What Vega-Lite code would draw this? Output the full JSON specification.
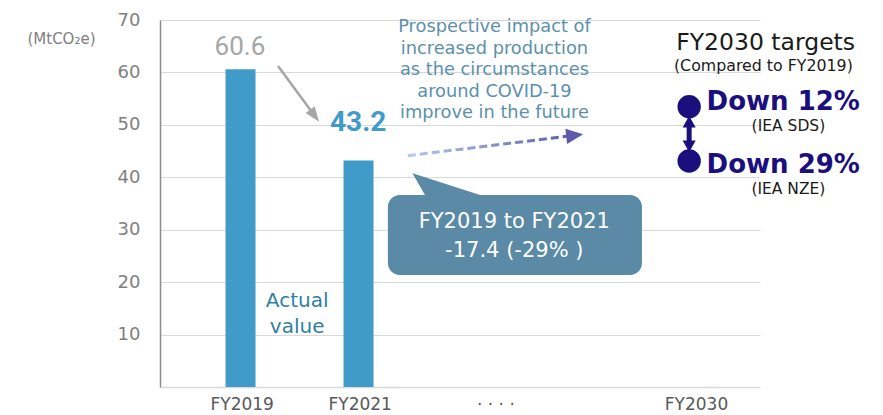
{
  "$schema": "https://vega.github.io/schema/vega-lite/v6.json",
  "width": 600,
  "height": 367,
  "autosize": {"type": "none"},
  "padding": {"left": 160, "top": 20, "right": 123, "bottom": 28},
  "background": "white",
  "config": {"view": {"stroke": null}, "font": "DejaVu Sans"},
  "encoding": {
    "x": {
      "field": "x", "type": "quantitative",
      "scale": {"domain": [0, 50], "nice": false, "zero": false},
      "axis": {
        "values": [6.5, 16.5, 28, 45],
        "labelExpr": "datum.value == 6.5 ? 'FY2019' : datum.value == 16.5 ? 'FY2021' : datum.value == 28 ? '· · · ·' : 'FY2030'",
        "title": null, "grid": false, "ticks": false,
        "domainColor": "#d9d9d9", "domainWidth": 1.5,
        "labelFont": "DejaVu Sans", "labelFontSize": 17, "labelColor": "#595959",
        "labelPadding": 9, "labelBaseline": "top"
      }
    },
    "y": {
      "field": "y", "type": "quantitative",
      "scale": {"domain": [0, 70], "nice": false, "zero": true},
      "axis": {
        "values": [10, 20, 30, 40, 50, 60, 70],
        "grid": true, "gridColor": "#d9d9d9", "gridWidth": 1.2,
        "ticks": false, "domainColor": "#8c8c8c", "domainWidth": 1.5,
        "labelFont": "DejaVu Sans", "labelFontSize": 18, "labelColor": "#7f7f7f",
        "labelPadding": 20,
        "title": "(MtCO₂e)", "titleAngle": 0, "titleX": -99, "titleY": 18,
        "titleAlign": "center", "titleBaseline": "middle",
        "titleFont": "DejaVu Sans", "titleFontSize": 15, "titleFontWeight": "normal", "titleColor": "#7f7f7f"
      }
    }
  },
  "layer": [
    {
      "data": {"values": [
        {"label": "FY2019", "x": 6.4, "y": 60.6},
        {"label": "FY2021", "x": 16.4, "y": 43.2}
      ]},
      "mark": {"type": "bar", "size": 30, "color": "#419bc9"}
    },
    {
      "data": {"values": [{"x": 6.35, "y": 64.8, "t": "60.6"}]},
      "mark": {"type": "text", "font": "Roboto", "fontSize": 26, "color": "#a6a6a6", "baseline": "middle", "align": "center"},
      "encoding": {"text": {"field": "t"}}
    },
    {
      "data": {"values": [{"x": 16.37, "y": 50.26, "t": "43.2"}]},
      "mark": {"type": "text", "font": "Roboto", "fontSize": 28, "fontWeight": "bold", "color": "#3f9bcb", "baseline": "middle", "align": "center"},
      "encoding": {"text": {"field": "t"}}
    },
    {
      "data": {"values": [{"x": 9.58, "y": 61.22, "x2": 12.68, "y2": 51.75}]},
      "mark": {"type": "rule", "strokeWidth": 2.5, "color": "#a6a6a6"},
      "encoding": {"x2": {"field": "x2"}, "y2": {"field": "y2"}}
    },
    {
      "data": {"values": [{"x": 12.68, "y": 51.75}]},
      "mark": {"type": "point", "shape": "M0,-1L0.75,1L-0.75,1Z", "size": 225, "angle": 143.2, "filled": true, "opacity": 1, "color": "#a6a6a6"}
    },
    {
      "data": {"values": [{"x": 20.58, "y": 44.12}, {"x": 34.72, "y": 48.0}]},
      "mark": {
        "type": "line", "strokeWidth": 3, "strokeDash": [8, 4],
        "color": {"gradient": "linear", "x1": 0, "x2": 1, "y1": 0, "y2": 0,
          "stops": [{"offset": 0, "color": "#b8c8ec"}, {"offset": 1, "color": "#5c58ae"}]}
      }
    },
    {
      "data": {"values": [{"x": 34.72, "y": 48.0}]},
      "mark": {"type": "point", "shape": "M0,-1L0.9,1L-0.9,1Z", "size": 289, "angle": 83.4, "filled": true, "opacity": 1, "color": "#5e5ab0"}
    },
    {
      "data": {"values": [
        {"x": 20.97, "y": 40.76, "y2": 40.76},
        {"x": 22.23, "y": 39.85, "y2": 35.86},
        {"x": 27.75, "y": 35.86, "y2": 35.86}
      ]},
      "mark": {"type": "area", "orient": "vertical", "color": "#5a8aa6", "opacity": 1},
      "encoding": {"y2": {"field": "y2"}}
    },
    {
      "data": {"values": [{"x": 18.89, "x2": 40.42, "y": 36.62, "y2": 21.36}]},
      "mark": {"type": "rect", "cornerRadius": 12, "color": "#5a8aa6", "opacity": 1},
      "encoding": {"x2": {"field": "x2"}, "y2": {"field": "y2"}}
    },
    {
      "data": {"values": [
        {"x": 29.6, "y": 31.5, "t": "FY2019 to FY2021"},
        {"x": 29.6, "y": 26.0, "t": "-17.4 (-29% )"}
      ]},
      "mark": {"type": "text", "fontSize": 21, "color": "white", "baseline": "middle", "align": "center"},
      "encoding": {"text": {"field": "t"}}
    },
    {
      "data": {"values": [{"x": 27.92, "y": 67.65, "t": "Prospective impact of\nincreased production\nas the circumstances\naround COVID-19\nimprove in the future"}]},
      "mark": {"type": "text", "fontSize": 17.8, "color": "#5b90ac", "baseline": "alphabetic", "align": "center", "lineBreak": "\n", "lineHeight": 21.5},
      "encoding": {"text": {"field": "t"}}
    },
    {
      "data": {"values": [{"x": 11.2, "y": 15.2, "t": "Actual\nvalue"}]},
      "mark": {"type": "text", "fontSize": 20, "color": "#2e7fa6", "baseline": "alphabetic", "align": "center", "lineBreak": "\n", "lineHeight": 26},
      "encoding": {"text": {"field": "t"}}
    },
    {
      "data": {"values": [{"x": 50.9, "y": 64.3, "t": "FY2030 targets"}]},
      "mark": {"type": "text", "fontSize": 23.5, "color": "#1a1a1a", "baseline": "alphabetic", "align": "center"},
      "encoding": {"text": {"field": "t"}}
    },
    {
      "data": {"values": [
        {"x": 50.71, "y": 60.27, "t": "(Compared to FY2019)"}
      ]},
      "mark": {"type": "text", "fontSize": 15.8, "color": "#1a1a1a", "baseline": "alphabetic", "align": "center"},
      "encoding": {"text": {"field": "t"}}
    },
    {
      "data": {"values": [
        {"x": 52.83, "y": 48.92, "t": "(IEA SDS)"},
        {"x": 52.83, "y": 36.9, "t": "(IEA NZE)"}
      ]},
      "mark": {"type": "text", "fontSize": 15.5, "color": "#1a1a1a", "baseline": "alphabetic", "align": "center"},
      "encoding": {"text": {"field": "t"}}
    },
    {
      "data": {"values": [
        {"x": 45.9, "y": 52.75, "t": "Down 12%"},
        {"x": 45.9, "y": 40.74, "t": "Down 29%"}
      ]},
      "mark": {"type": "text", "fontSize": 26, "fontWeight": "bold", "color": "#1b0f7d", "baseline": "alphabetic", "align": "left"},
      "encoding": {"text": {"field": "t"}}
    },
    {
      "data": {"values": [{"x": 44.42, "y": 53.46}, {"x": 44.42, "y": 43.1}]},
      "mark": {"type": "point", "shape": "circle", "size": 548, "filled": true, "opacity": 1, "color": "#1b0f7d"}
    },
    {
      "data": {"values": [{"x": 44.42, "y": 50.16, "y2": 46.35}]},
      "mark": {"type": "rule", "strokeWidth": 5, "color": "#1b0f7d"},
      "encoding": {"y2": {"field": "y2"}}
    },
    {
      "data": {"values": [{"x": 44.42, "y": 50.5, "a": 0}, {"x": 44.42, "y": 46.0, "a": 180}]},
      "mark": {"type": "point", "shape": "M0,-1L1,0.8L-1,0.8Z", "size": 170, "filled": true, "opacity": 1, "color": "#1b0f7d"},
      "encoding": {"angle": {"field": "a", "type": "quantitative", "scale": null}}
    }
  ]
}
